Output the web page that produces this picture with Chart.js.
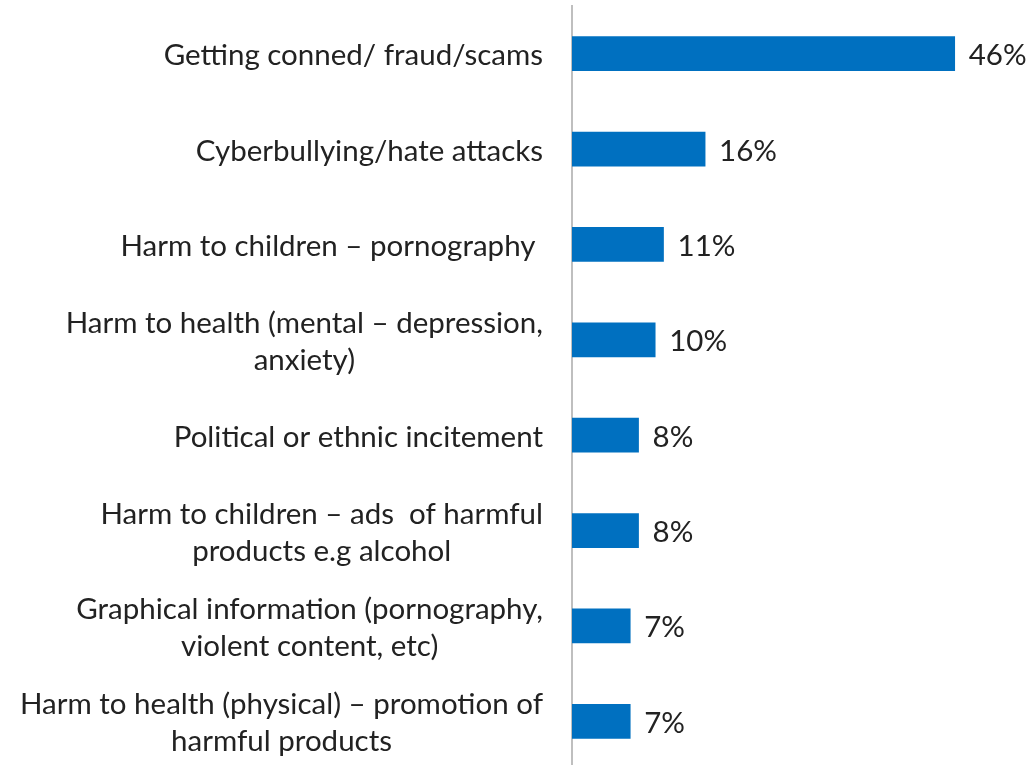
<!DOCTYPE html>
<html>
<head>
<meta charset="utf-8">
<script src="https://cdn.jsdelivr.net/npm/chart.js@4/dist/chart.umd.min.js"></script>
<style>
  html, body { margin: 0; padding: 0; background: #ffffff; overflow: hidden; }
  #wrap { position: relative; width: 1030px; height: 770px; }
</style>
</head>
<body>
<div id="wrap"><canvas id="c" width="1030" height="770"></canvas></div>
<script>
// Categories (multi-line entries are arrays of lines)
const categories = [
  "Getting conned/ fraud/scams",
  "Cyberbullying/hate attacks",
  "Harm to children \u2013 pornography ",
  ["Harm to health (mental \u2013 depression,", "anxiety)"],
  "Political or ethnic incitement",
  ["Harm to children \u2013 ads  of harmful", "products e.g alcohol"],
  ["Graphical information (pornography,", "violent content, etc)"],
  ["Harm to health (physical) \u2013 promotion of", "harmful products"]
];
// Share of respondents, percent
const values = [46, 16, 11, 10, 8, 8, 7, 7];

const FONT = '"Lato", "Liberation Sans", sans-serif';
const FONT_SIZE = 29.5;
const TEXT_COLOR = '#222222';
const LABEL_RIGHT = 543;
const LINE_HEIGHT = 37;
const TEXT_SHIFT = 2;

// Draws the category names (right-aligned blocks, lines centred within a block)
// and the percentage next to each bar.
const labelPlugin = {
  id: 'labelPlugin',
  afterDraw(chart) {
    const ctx = chart.ctx;
    const yScale = chart.scales.y;
    const meta = chart.getDatasetMeta(0);
    ctx.save();
    ctx.font = FONT_SIZE + 'px ' + FONT;
    ctx.fillStyle = TEXT_COLOR;
    ctx.textBaseline = 'middle';
    categories.forEach((cat, i) => {
      const lines = Array.isArray(cat) ? cat : [cat];
      const yc = yScale.getPixelForValue(i) + TEXT_SHIFT;
      const widths = lines.map(l => ctx.measureText(l).width);
      const blockW = Math.max(...widths);
      const cx = LABEL_RIGHT - blockW / 2;
      ctx.textAlign = 'center';
      lines.forEach((l, k) => {
        const y = yc + (k - (lines.length - 1) / 2) * LINE_HEIGHT;
        ctx.fillText(l, cx, y);
      });
      const bar = meta.data[i];
      ctx.textAlign = 'left';
      ctx.fillText(values[i] + '%', bar.x + 14, bar.y + TEXT_SHIFT);
    });
    ctx.restore();
  }
};

new Chart(document.getElementById('c'), {
  type: 'bar',
  data: {
    labels: categories,
    datasets: [{
      data: values,
      backgroundColor: '#0070C0',
      borderWidth: 0,
      barThickness: 34
    }]
  },
  options: {
    indexAxis: 'y',
    responsive: false,
    animation: false,
    layout: { padding: { left: 572, right: 42, top: 6, bottom: 1 } },
    plugins: { legend: { display: false }, tooltip: { enabled: false } },
    scales: {
      x: { display: false, min: 0, max: 50 },
      y: {
        ticks: { display: false },
        grid: { display: false, drawTicks: false },
        border: { display: true, color: '#bfbfbf', width: 2 }
      }
    }
  },
  plugins: [labelPlugin]
});
</script>
</body>
</html>
